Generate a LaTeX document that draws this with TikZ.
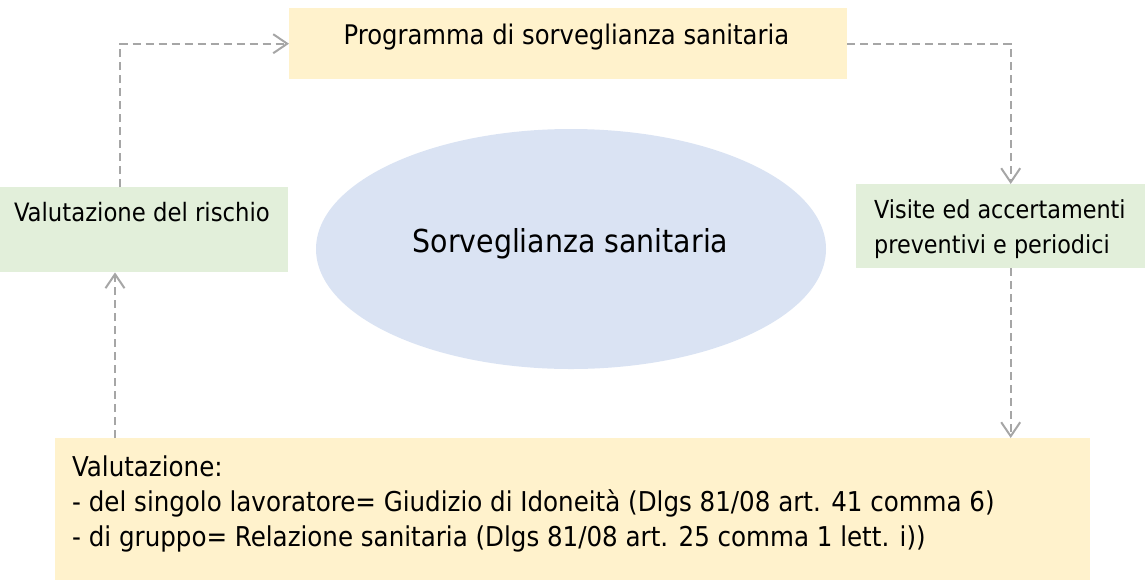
\documentclass[tikz,border=0pt]{standalone}
\usepackage{fontspec}
\setmainfont{DejaVu Sans Condensed}
\usetikzlibrary{arrows.meta,calc,shapes.geometric}
\definecolor{ybox}{HTML}{FFF2CC}
\definecolor{gbox}{HTML}{E2EFDA}
\definecolor{bell}{HTML}{DAE3F3}
\definecolor{garr}{HTML}{A6A6A6}
\tikzset{
  boxy/.style={draw=none,fill=ybox,inner sep=0pt,anchor=north west},
  boxg/.style={draw=none,fill=gbox,inner sep=0pt,anchor=north west},
  txt/.style={inner sep=0pt},
  arr/.style={draw=garr,line width=2pt,dash pattern=on 8pt off 5pt,-{Straight Barb[length=14pt,width=19pt,line width=2pt]}}
}
\begin{document}
\begin{tikzpicture}[x=1pt,y=-1pt]
\useasboundingbox (0,0) rectangle (1148,582);
% boxes
\node[boxy,minimum width=558pt,minimum height=71pt] (prog) at (289,8) {};
\node[boxg,minimum width=288pt,minimum height=85pt] (val) at (0,187) {};
\node[boxg,minimum width=289pt,minimum height=84pt] (vis) at (856,184) {};
\node[boxy,minimum width=1035pt,minimum height=142pt] (bot) at (55,438) {};
\node[ellipse,fill=bell,minimum width=510pt,minimum height=240pt,inner sep=0pt] (ell) at (571,249) {};
% texts
\node[txt,anchor=base,font=\fontsize{27}{35}\selectfont] (progt) at (566.5,44) {Programma di sorveglianza sanitaria};
\node[txt,anchor=base,font=\fontsize{25.3}{35}\selectfont] (valt) at (142,221.7) {Valutazione del rischio};
\node[txt,anchor=base west,font=\fontsize{24.8}{35}\selectfont] (vist1) at (874,218.3) {Visite ed accertamenti};
\node[txt,anchor=base west,font=\fontsize{24.8}{35}\selectfont] (vist2) at (874,253.5) {preventivi e periodici};
\node[txt,anchor=base west,font=\fontsize{27.3}{35}\selectfont] (bott1) at (72,476) {Valutazione:};
\node[txt,anchor=base west,font=\fontsize{27.3}{35}\selectfont] (bott2) at (72,511.5) {- del singolo lavoratore= Giudizio di Idoneità (Dlgs 81/08 art. 41 comma 6)};
\node[txt,anchor=base west,font=\fontsize{27.3}{35}\selectfont] (bott3) at (72,546.5) {- di gruppo= Relazione sanitaria (Dlgs 81/08 art. 25 comma 1 lett. i))};
\node[txt,anchor=base,font=\fontsize{31.6}{35}\selectfont] (ellt) at (570.5,252) {Sorveglianza sanitaria};
% arrows
\draw[arr] ([xshift=120pt]val.north west) |- (prog.west);
\draw[arr] (prog.east) -| ([xshift=10pt]vis.north);
\draw[arr] ([xshift=10pt]vis.south) -- ([xshift=10pt]vis.south |- bot.north);
\draw[arr] ([xshift=60pt]bot.north west) -- ([xshift=60pt]bot.north west |- val.south);
\end{tikzpicture}
\end{document}
